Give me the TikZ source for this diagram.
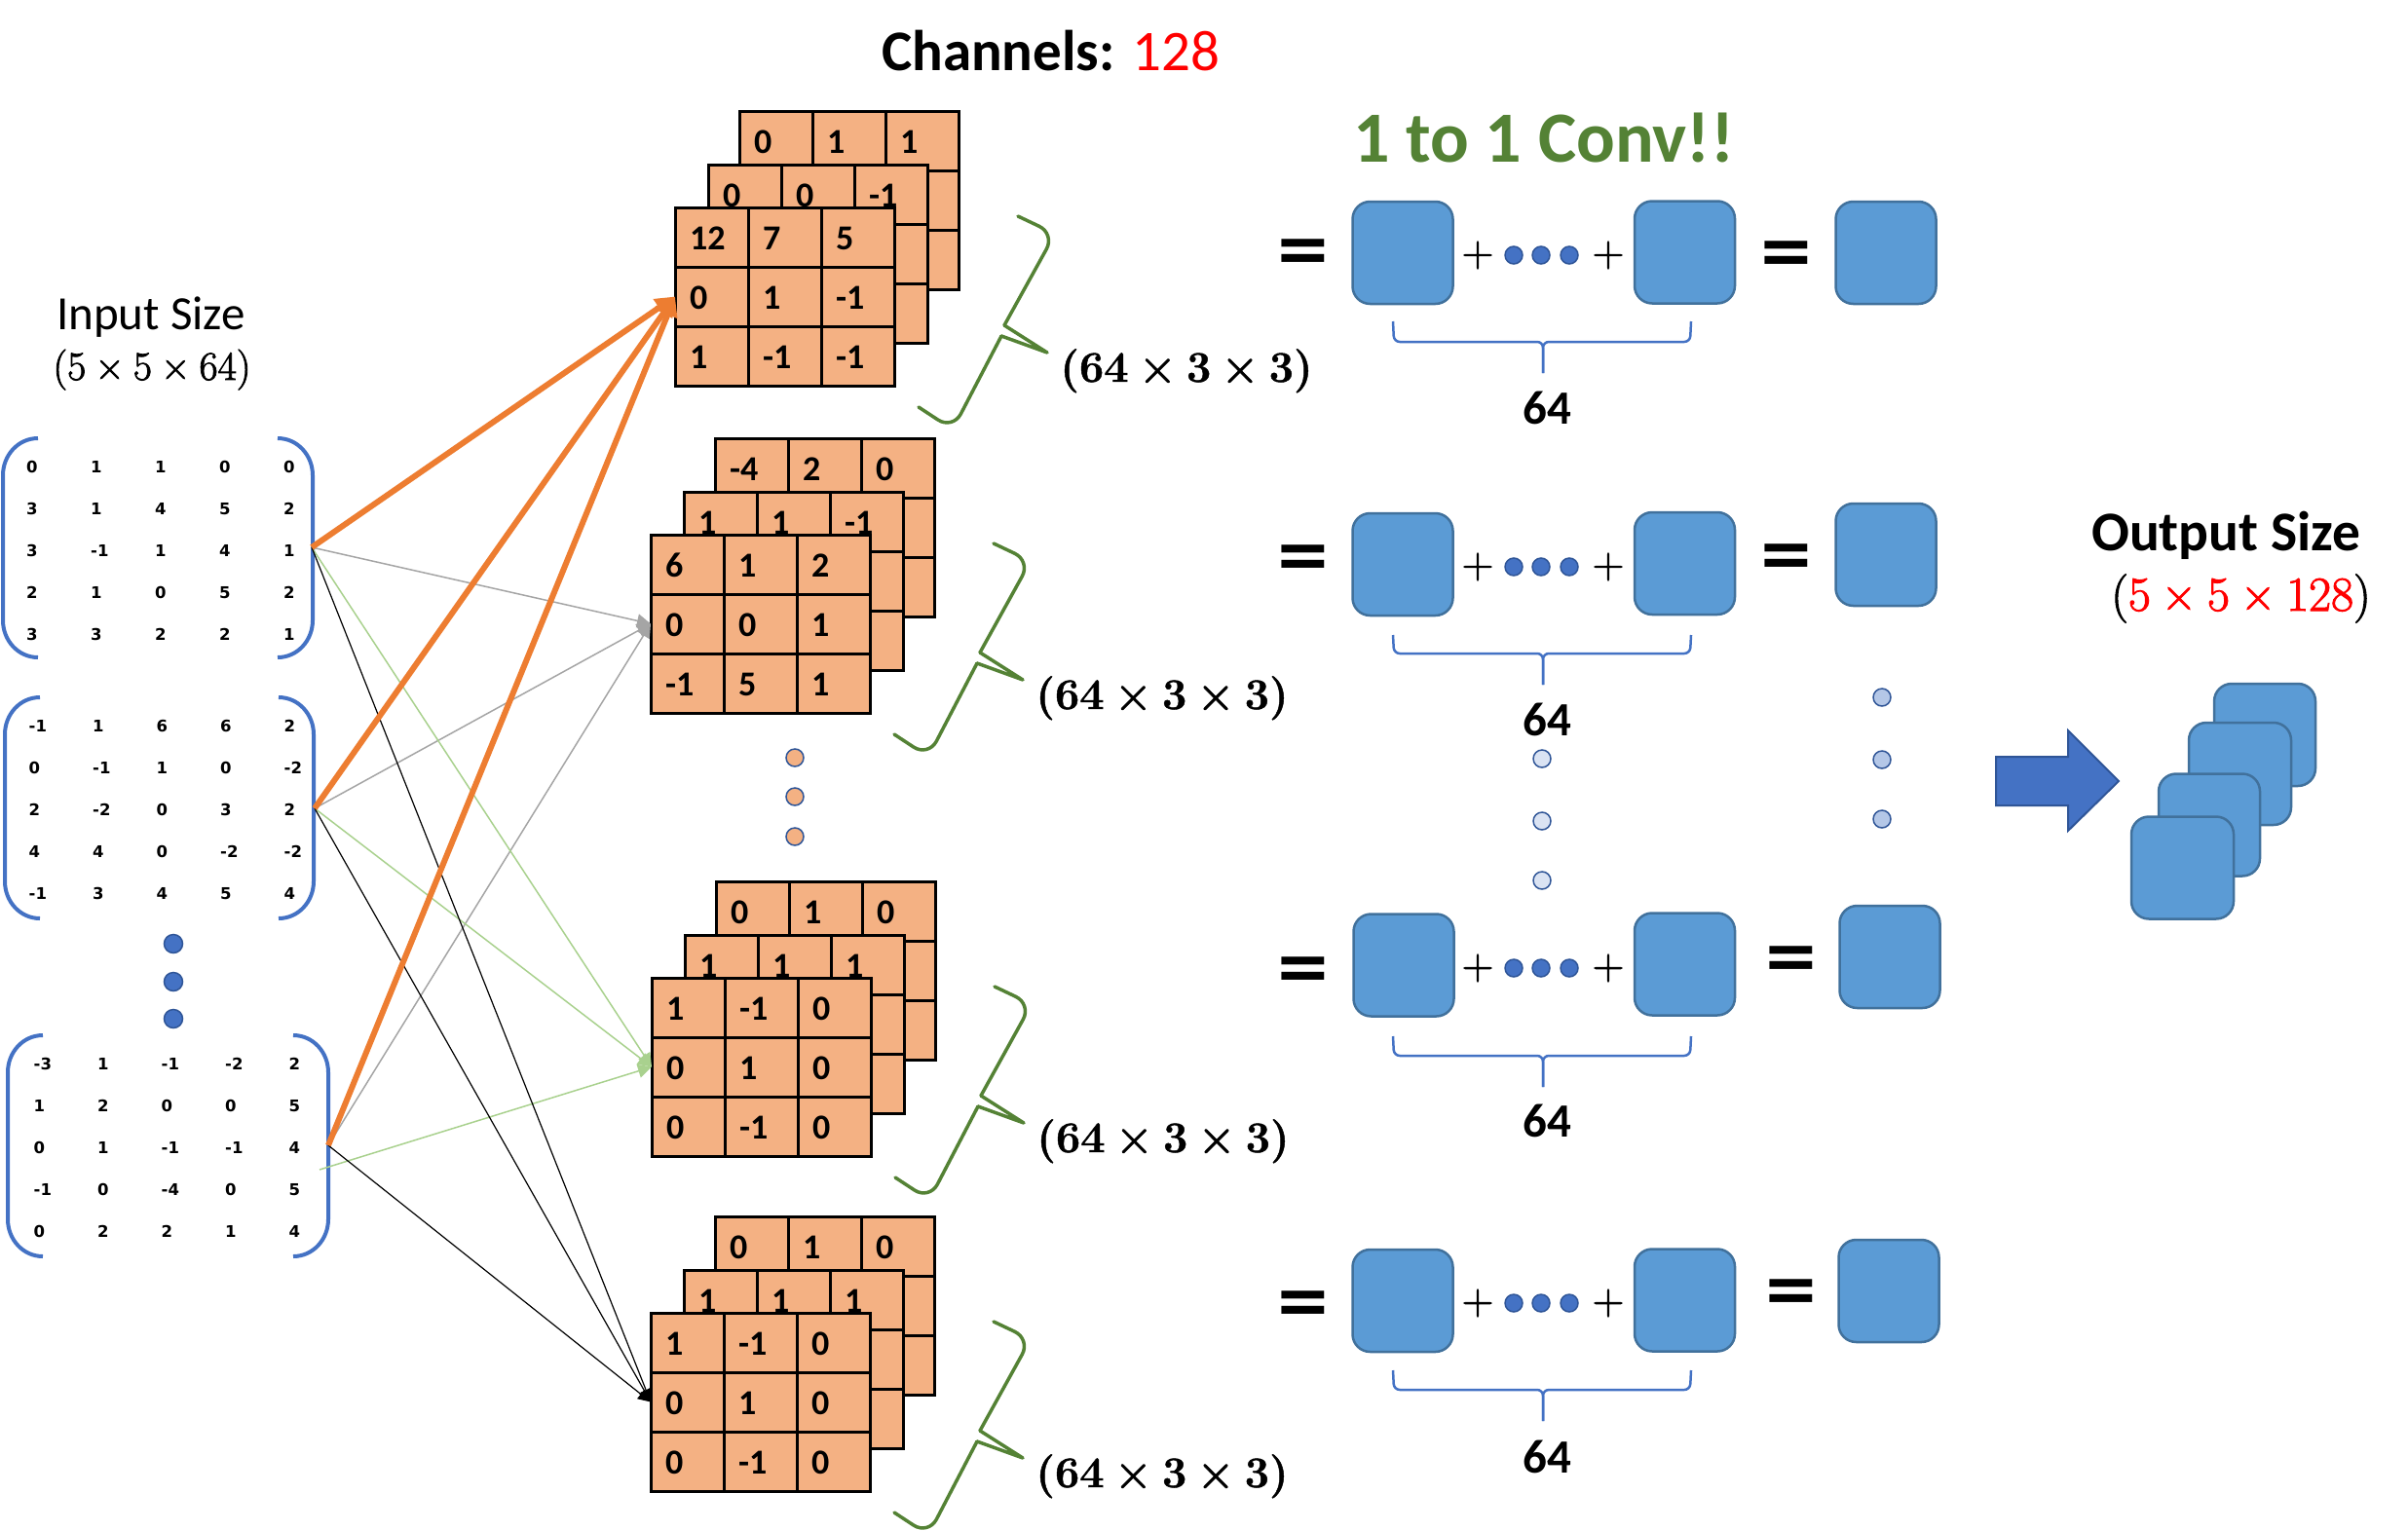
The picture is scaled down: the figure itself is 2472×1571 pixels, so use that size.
\documentclass[tikz,border=0pt]{standalone}
\usepackage{fontspec}
\setmainfont{Carlito}
\newfontfamily\vfont{DejaVu Sans}
\newfontfamily\lmr{Latin Modern Roman}[FakeBold=2]
\newfontfamily\lmrb{Latin Modern Roman}[FakeBold=1]
\newcommand\tms{\hspace{0.222em}×\hspace{0.222em}}
\usetikzlibrary{arrows.meta}
\definecolor{gfill}{HTML}{F4B183}
\definecolor{sqfill}{HTML}{5B9BD5}
\definecolor{sqedge}{HTML}{41719C}
\definecolor{dblue}{HTML}{4472C4}
\definecolor{dedge}{HTML}{2F5597}
\definecolor{brgreen}{HTML}{548235}
\definecolor{arrorange}{HTML}{ED7D31}
\definecolor{arrgray}{HTML}{A5A5A5}
\definecolor{arrgreen}{HTML}{A9D18E}
\definecolor{lightdot}{HTML}{DAE3F3}
\definecolor{middot}{HTML}{B4C7E7}
\tikzset{
  cellbox/.style={fill=gfill, draw=black, line width=3pt},
  cellline/.style={draw=black, line width=3pt},
  gnum/.style={font=\fontsize{36}{40}\selectfont\bfseries, anchor=base west, inner sep=0pt},
  mnum/.style={font=\vfont\fontsize{16.5}{18}\selectfont\bfseries, anchor=base west, inner sep=0pt},
  mbracket/.style={draw=dblue, line width=4pt},
  greenbrace/.style={draw=brgreen, line width=3.5pt, line cap=round, line join=round},
  dimtext/.style={font=\lmrb\fontsize{45}{50}\selectfont\bfseries, inner sep=0pt, anchor=base},
  sq/.style={draw=sqedge, fill=sqfill, line width=2.5pt, rounded corners=18pt, minimum width=103pt, minimum height=105pt, inner sep=0pt},
  eqsign/.style={font=\vfont\fontsize{70}{80}\selectfont\bfseries, inner sep=0pt},
  plussign/.style={font=\lmr\fontsize{45}{50}\selectfont, inner sep=0pt},
  rowdot/.style={circle, draw=dedge, fill=dblue, line width=1.5pt, minimum size=18pt, inner sep=0pt},
  mdot/.style={circle, draw=dedge, fill=dblue, line width=1.5pt, minimum size=19pt, inner sep=0pt},
  odot/.style={circle, draw=dedge, fill=gfill, line width=1.5pt, minimum size=18pt, inner sep=0pt},
  vdotl/.style={circle, draw=dedge, fill=lightdot, line width=1.5pt, minimum size=18pt, inner sep=0pt},
  vdotm/.style={circle, draw=dedge, fill=middot, line width=1.5pt, minimum size=18pt, inner sep=0pt},
  countbr/.style={draw=dblue, line width=2.5pt, rounded corners=6pt},
  cnt/.style={font=\fontsize{49}{56}\selectfont\bfseries, anchor=base, inner sep=0pt},
  oarr/.style={draw=arrorange, line width=6pt, -{Triangle[length=20pt,width=20pt]}},
  garr/.style={draw=arrgray, line width=1.5pt, -{Triangle[length=14pt,width=14pt]}},
  larr/.style={draw=arrgreen, line width=1.5pt, -{Triangle[length=14pt,width=14pt]}},
  karr/.style={draw=black, line width=1.2pt, -{Triangle[length=13pt,width=12pt]}},
}
\newcommand\bgrid[4]{%
  \draw[cellbox] (#1,#2) rectangle ++(225,183);
  \draw[cellline] (#1+75,#2) -- ++(0,183) (#1+150,#2) -- ++(0,183) (#1,#2+61) -- ++(225,0) (#1,#2+122) -- ++(225,0);
  \foreach \v [count=\c] in {#4} \node[gnum] (#3-1-\c) at ({#1+75*\c-75+15},{#2+43}) {\v};
}
\newcommand\fgrid[6]{%
  \bgrid{#1}{#2}{#3}{#4}%
  \foreach \v [count=\c] in {#5} \node[gnum] (#3-2-\c) at ({#1+75*\c-75+15},{#2+104}) {\v};
  \foreach \v [count=\c] in {#6} \node[gnum] (#3-3-\c) at ({#1+75*\c-75+15},{#2+165}) {\v};
}
\newcommand\gbrace[2]{%
  \draw[greenbrace, rounded corners=18pt] ({#1+352},{#2+9}) -- ({#1+390},{#2+27}) -- ({#1+338},{#2+121});
  \draw[greenbrace] ({#1+338},{#2+121}) -- ({#1+382},{#2+149}) -- ({#1+335},{#2+132});
  \draw[greenbrace, rounded corners=18pt] ({#1+335},{#2+132}) -- ({#1+285},{#2+228}) -- ({#1+250},{#2+205});
}
\newcommand\inmat[5]{%
  \foreach \rw [count=\r] in {#5} {\foreach \v [count=\c] in \rw {\node[mnum] (#1-\r-\c) at ({#2+#3*(\c-1)},{#4+43*(\r-1)}) {\v};}}
}
\newcommand\mbr[4]{%
  \draw[mbracket] ({#1+36},#3) to[out=180,in=90] (#1,{#3+38}) -- (#1,{#4-38}) to[out=-90,in=180] ({#1+36},#4);
  \draw[mbracket] ({#2-36},#3) to[out=0,in=90] (#2,{#3+38}) -- (#2,{#4-38}) to[out=-90,in=0] ({#2-36},#4);
}
\newcommand\eqrow[9]{%
  \node[eqsign] (#1eqa) at (1337.5,#7) {=};
  \node[sq] (#1a) at (#2,#3) {};
  \node[sq] (#1b) at (1729.5,#4) {};
  \node[eqsign] (#1eqb) at (#8,#9) {=};
  \node[sq] (#1c) at (#5,#6) {};
}
\newcommand\sumrow[2]{%
  \node[plussign] (#1pa) at (1517,#2) {+};
  \node[rowdot] (#1d1) at (1554,#2) {};
  \node[rowdot] (#1d2) at (1582,#2) {};
  \node[rowdot] (#1d3) at (1611,#2) {};
  \node[plussign] (#1pb) at (1651,#2) {+};
}
\newcommand\cntbr[5]{%
  \draw[countbr] (1430,#2) -- (1431,#3) -- (1584,#3) -- (1584,#4);
  \draw[countbr] (1736,#2) -- (1735,#3) -- (1584,#3) -- (1584,#4);
  \node[cnt] (#1n) at (1588,#5) {64};
}
\begin{document}
\begin{tikzpicture}[x=1pt,y=-1pt]
\useasboundingbox (0,0) rectangle (2472,1571);
% titles
\node[font=\fontsize{59}{70}\selectfont, anchor=base west, inner sep=0pt] (chan) at (905,73) {\textbf{Channels:} \textcolor{red}{128}};
\node[font=\fontsize{74}{80}\selectfont\bfseries, text=brgreen, anchor=base west, inner sep=0pt] (conv) at (1389,166) {1 to 1 Conv!!};
\node[font=\fontsize{49}{56}\selectfont, anchor=base west, inner sep=0pt] (insize) at (58,338) {Input Size};
\node[font=\lmr\fontsize{41.7}{48}\selectfont, anchor=base, inner sep=0pt] (indim) at (156,390) {(5\tms5\tms64)};
\node[font=\fontsize{57.5}{64}\selectfont\bfseries, anchor=base west, inner sep=0pt] (outsize) at (2147,565) {Output Size};
\node[font=\lmr\fontsize{50}{56}\selectfont, anchor=base, inner sep=0pt] (outdim) at (2300.5,627) {({\color{red}5\tms5\tms128})};
% input matrices
\mbr{3}{321}{450}{675}
\inmat{ma}{27}{66}{485}{{0,1,1,0,0},{3,1,4,5,2},{3,-1,1,4,1},{2,1,0,5,2},{3,3,2,2,1}}
\mbr{5}{322}{716}{943}
\inmat{mb}{29.5}{65.5}{751}{{-1,1,6,6,2},{0,-1,1,0,-2},{2,-2,0,3,2},{4,4,0,-2,-2},{-1,3,4,5,4}}
\mbr{8}{337}{1063}{1290}
\inmat{mc}{34.5}{65.5}{1098}{{-3,1,-1,-2,2},{1,2,0,0,5},{0,1,-1,-1,4},{-1,0,-4,0,5},{0,2,2,1,4}}
\node[mdot] (mdot1) at (178,969) {};
\node[mdot] (mdot2) at (178,1008) {};
\node[mdot] (mdot3) at (178,1046) {};
% filter stacks
\bgrid{759}{114}{s1b}{0,1,1}
\bgrid{727}{169}{s1m}{0,0,-1}
\fgrid{693}{213}{s1f}{12,7,5}{0,1,-1}{1,-1,-1}
\bgrid{734}{450}{s2b}{-4,2,0}
\bgrid{702}{505}{s2m}{1,1,-1}
\fgrid{668}{549}{s2f}{6,1,2}{0,0,1}{-1,5,1}
\bgrid{735}{905}{s3b}{0,1,0}
\bgrid{703}{960}{s3m}{1,1,1}
\fgrid{669}{1004}{s3f}{1,-1,0}{0,1,0}{0,-1,0}
\bgrid{734}{1249}{s4b}{0,1,0}
\bgrid{702}{1304}{s4m}{1,1,1}
\fgrid{668}{1348}{s4f}{1,-1,0}{0,1,0}{0,-1,0}
\node[odot] (od1) at (816,778) {};
\node[odot] (od2) at (816,818) {};
\node[odot] (od3) at (816,859) {};
% braces and dims
\gbrace{693}{213}
\gbrace{668}{549}
\gbrace{669}{1004}
\gbrace{668}{1348}
\node[dimtext] (dim1) at (1218,392) {(64\tms3\tms3)};
\node[dimtext] (dim2) at (1193,728) {(64\tms3\tms3)};
\node[dimtext] (dim3) at (1194,1183) {(64\tms3\tms3)};
\node[dimtext] (dim4) at (1193,1527) {(64\tms3\tms3)};
% connectors
\coordinate (m1) at (320,562);
\coordinate (m2) at (323,830);
\coordinate (m3) at (337,1176);
\coordinate (m3g) at (328,1201);
\coordinate (t1) at (693,304.5);
\coordinate (t2) at (668,640.5);
\coordinate (t3) at (669,1095.5);
\coordinate (t4) at (668,1439.5);
\draw[garr] (m1) -- (t2);
\draw[garr] (m2) -- (t2);
\draw[garr] (m3) -- (t2);
\draw[larr] (m1) -- (t3);
\draw[larr] (m2) -- (t3);
\draw[larr] (m3g) -- (t3);
\draw[karr] (m1) -- (t4);
\draw[karr] (m2) -- (t4);
\draw[karr] (m3) -- (t4);
\draw[oarr] (m1) -- (t1);
\draw[oarr] (m2) -- (t1);
\draw[oarr] (m3) -- (t1);
% equation rows
\eqrow{ra}{1440}{259.5}{259}{1936}{259.5}{263}{1834}{265}
\sumrow{ra}{262}
\cntbr{ra}{330}{351}{383}{435}
\eqrow{rb}{1440}{579.5}{578.5}{1936}{569.5}{577}{1834}{576}
\sumrow{rb}{582}
\cntbr{rb}{652}{671}{703}{755}
\eqrow{rc}{1441}{991}{990}{1940}{982.5}{1000}{1838.5}{989}
\sumrow{rc}{994}
\cntbr{rc}{1064}{1084}{1116}{1167}
\eqrow{rd}{1440}{1335.5}{1335}{1939}{1325.5}{1343}{1838.5}{1331}
\sumrow{rd}{1338}
\cntbr{rd}{1407}{1427}{1459}{1512}
\node[vdotl] (vm1) at (1583,779) {};
\node[vdotl] (vm2) at (1583,843) {};
\node[vdotl] (vm3) at (1583,904) {};
\node[vdotm] (vr1) at (1932,716) {};
\node[vdotm] (vr2) at (1932,780) {};
\node[vdotm] (vr3) at (1932,841) {};
% output
\draw[fill=dblue, draw=dedge, line width=2pt] (2049,777) -- (2123,777) -- (2123,750) -- (2175,802) -- (2123,853) -- (2123,827) -- (2049,827) -- cycle;
\node[sq, minimum width=104pt] (o4) at (2325,754.5) {};
\node[sq, minimum width=105pt] (o3) at (2299.5,794.5) {};
\node[sq, minimum width=104pt] (o2) at (2268,847) {};
\node[sq, minimum width=105pt] (o1) at (2240.5,891) {};
\end{tikzpicture}
\end{document}
